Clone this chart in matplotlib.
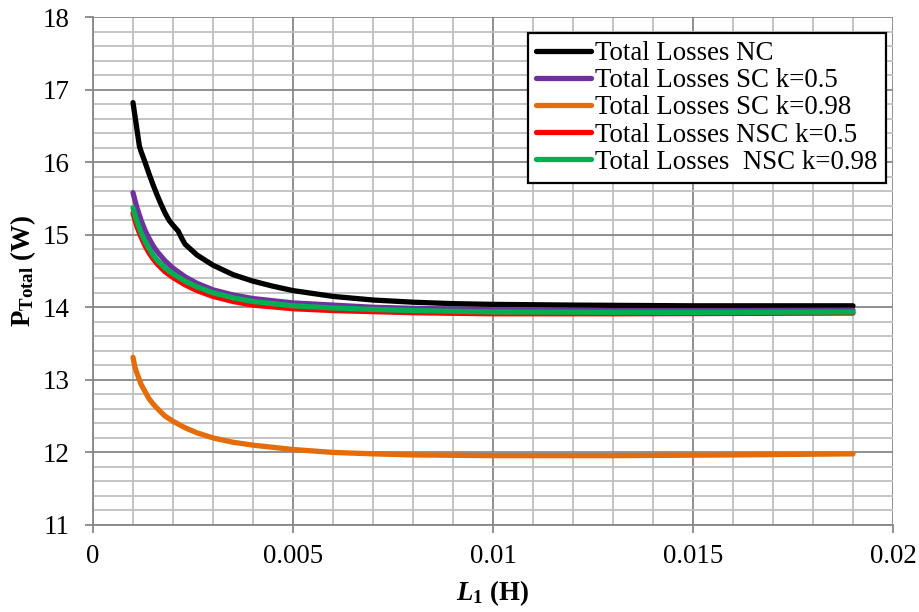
import matplotlib
matplotlib.use("Agg")
import matplotlib.pyplot as plt
from matplotlib.font_manager import FontProperties
from matplotlib.ticker import MultipleLocator, FuncFormatter

SERIF = "Liberation Serif"
FS = 19.4
plt.rcParams["font.family"] = "serif"
plt.rcParams["font.serif"] = [SERIF, "DejaVu Serif"]
plt.rcParams["mathtext.fontset"] = "custom"
plt.rcParams["mathtext.rm"] = "Liberation Serif:bold"
plt.rcParams["mathtext.bf"] = "Liberation Serif:bold"
plt.rcParams["mathtext.it"] = "Liberation Serif:italic:bold"

# Inductance L1 (H) and total losses (W) for each configuration
L_nc = [0.001, 0.00116, 0.0012, 0.0013, 0.0014, 0.0015, 0.0016, 0.0017,
        0.0018, 0.0019, 0.002, 0.00213, 0.0022, 0.0023, 0.0026, 0.003,
        0.0035, 0.004, 0.0045, 0.005, 0.0055, 0.006, 0.007, 0.008, 0.009,
        0.01, 0.012, 0.015, 0.019]
P_nc = [16.82, 16.22, 16.15, 16.00, 15.84, 15.69, 15.55, 15.42,
        15.30, 15.20, 15.13, 15.05, 14.97, 14.87, 14.72, 14.58,
        14.45, 14.36, 14.29, 14.23, 14.19, 14.15, 14.10, 14.07, 14.05,
        14.04, 14.03, 14.02, 14.02]

L_k = [0.001, 0.00105, 0.0011, 0.0012, 0.0013, 0.0014, 0.0015, 0.0016,
       0.0018, 0.002, 0.0023, 0.0026, 0.003, 0.0035, 0.004, 0.005, 0.006,
       0.007, 0.008, 0.01, 0.013, 0.016, 0.019]
P_sc_05 = [15.58, 15.47, 15.37, 15.20, 15.06, 14.95, 14.85, 14.77,
           14.64, 14.54, 14.42, 14.33, 14.24, 14.17, 14.12, 14.06, 14.03,
           14.00, 13.985, 13.965, 13.955, 13.955, 13.96]
P_sc_098 = [13.31, 13.17, 13.09, 12.94, 12.84, 12.74, 12.67, 12.61,
            12.50, 12.43, 12.34, 12.27, 12.20, 12.14, 12.10, 12.04, 12.00,
            11.98, 11.965, 11.955, 11.955, 11.965, 11.98]
P_nsc_05 = [15.30, 15.20, 15.11, 14.97, 14.85, 14.75, 14.67, 14.60,
            14.49, 14.41, 14.31, 14.23, 14.15, 14.08, 14.03, 13.98, 13.955,
            13.94, 13.925, 13.91, 13.91, 13.915, 13.92]
P_nsc_098 = [15.37, 15.27, 15.18, 15.03, 14.91, 14.81, 14.72, 14.65,
             14.54, 14.46, 14.36, 14.28, 14.20, 14.13, 14.08, 14.02, 13.99,
             13.97, 13.955, 13.935, 13.93, 13.93, 13.935]

series = [
    (L_nc, P_nc, "Total Losses NC", "#000000"),
    (L_k, P_sc_05, "Total Losses SC k=0.5", "#7030A0"),
    (L_k, P_sc_098, "Total Losses SC k=0.98", "#E46C0A"),
    (L_k, P_nsc_05, "Total Losses NSC k=0.5", "#FF0000"),
    (L_k, P_nsc_098, "Total Losses  NSC k=0.98", "#00B050"),
]

fig = plt.figure(figsize=(9.19, 6.12), dpi=100)
ax = fig.add_axes([0.1012, 0.1422, 0.8705, 0.8300])

for x, y, label, color in series:
    ax.plot(x, y, color=color, lw=3.8, label=label,
            solid_capstyle="round", solid_joinstyle="round")

ax.set_xlim(0, 0.02)
ax.set_ylim(11, 18)
ax.xaxis.set_major_locator(MultipleLocator(0.005))
ax.xaxis.set_minor_locator(MultipleLocator(0.001))
ax.yaxis.set_major_locator(MultipleLocator(1))
ax.yaxis.set_minor_locator(MultipleLocator(0.2))
ax.xaxis.set_major_formatter(FuncFormatter(lambda v, p: f"{v:g}"))
ax.yaxis.set_major_formatter(FuncFormatter(lambda v, p: f"{v:g}"))

ax.grid(which="major", color="#878787", lw=1.3)
ax.grid(which="minor", color="#BFBFBF", lw=1.3)
ax.set_axisbelow(True)

for side in ("top", "right"):
    ax.spines[side].set_visible(False)
for side in ("left", "bottom"):
    ax.spines[side].set_color("#878787")
    ax.spines[side].set_linewidth(1.3)

ax.tick_params(which="major", direction="out", length=6, width=1.3,
               color="#878787", labelsize=FS, labelfontfamily=SERIF)
ax.tick_params(axis="x", which="major", pad=8)
ax.tick_params(axis="y", which="major", pad=11)
ax.tick_params(which="minor", length=0)

ax.set_xlabel(r"$\mathit{L_1}$ (H)", fontsize=FS, fontweight="bold",
              family=SERIF, labelpad=6)
ax.set_ylabel(r"$\mathrm{P_{Total}}$ (W)", fontsize=FS, fontweight="bold",
              family=SERIF, labelpad=3)

leg = ax.legend(loc="upper right", bbox_to_anchor=(0.991, 0.9685),
                prop=FontProperties(family=SERIF, size=FS),
                frameon=True, fancybox=False, framealpha=1,
                edgecolor="#000000", handlelength=2.05, handletextpad=0.15,
                labelspacing=0.08, borderpad=0.3, borderaxespad=0.0)
leg.get_frame().set_linewidth(1.6)

fig.savefig("out.png", dpi=100)
